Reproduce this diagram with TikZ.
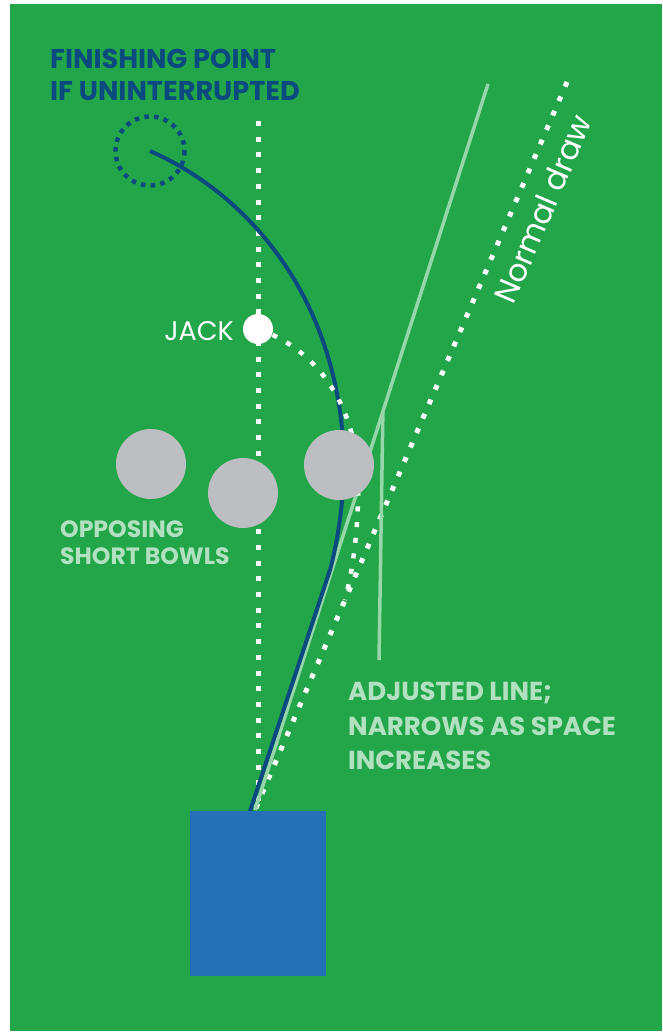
\documentclass[tikz,border=0pt]{standalone}
\usepackage{fontspec}
\setmainfont{Poppins}
\usetikzlibrary{calc}
\definecolor{pitch}{RGB}{35,166,74}
\definecolor{navy}{RGB}{11,74,126}
\definecolor{lgreen}{RGB}{150,214,168}
\definecolor{lgtext}{RGB}{178,225,192}
\definecolor{matblue}{RGB}{38,112,184}
\definecolor{bowlgrey}{RGB}{189,190,194}
\tikzset{
  whitedots/.style={white, line width=5pt, dash pattern=on 5pt off 10.7pt},
  navydots/.style={navy, line width=4.5pt, dash pattern=on 4.5pt off 5.3pt},
  adjline/.style={lgreen, line width=3.5pt},
  bowl/.style={circle, fill=bowlgrey, minimum size=70pt, inner sep=0pt},
  label/.style={anchor=north west, inner sep=0pt, align=left},
}
\begin{document}
\begin{tikzpicture}[x=1pt,y=-1pt]
      \useasboundingbox (0,0) rectangle (662,1033);
      \fill[pitch] (10,4) rectangle (662,1031);

      \coordinate (mat) at (255,810);
      \coordinate (release) at (250,811);
      \coordinate (finish) at (150,151);
      \coordinate (normaltop) at (567,82);
      \coordinate (adjtop) at (488,84);
      \coordinate (tick) at ($(mat)!0.549!(adjtop)$);

      \draw[whitedots] (258,121) -- (258,808);
      \draw[whitedots] (normaltop) -- (mat);
      \draw[adjline] (mat) -- (adjtop);
      \draw[adjline] (tick) -- (379,660);

      \draw[navydots] (finish) circle[radius=34.5];
      \draw[navy, line width=4pt] (finish) .. controls (250,195) and (340,300) .. (344,460)
        .. controls (344,500) and (338,540) .. (330,570) -- (release);

      \node[circle, fill=white, minimum size=30pt, inner sep=0pt] (jack) at (258,329) {};
      \draw[whitedots, line width=4.5pt] (jack.center) .. controls (320,350) and (357,410) .. (358,480)
        .. controls (359,540) and (350,580) .. (345,600);

      \node[bowl] (bowla) at (151,464) {};
      \node[bowl] (bowlb) at (243,493) {};
      \node[bowl] (bowlc) at (339,465) {};

      \fill[matblue] (190,811) rectangle (326,976);

      \node[label, navy, font=\bfseries\fontsize{27.2}{32}\selectfont] (finishlabel) at (50,48.5) {FINISHING POINT\\IF UNINTERRUPTED};
      \node[anchor=east, inner sep=0pt, white, font=\fontsize{27}{27}\selectfont] (jacklabel) at (234,331) {JACK};
      \node[label, lgtext, font=\bfseries\fontsize{23.6}{27}\selectfont] (shortlabel) at (60,520.5) {OPPOSING\\SHORT BOWLS};
      \node[label, lgtext, font=\bfseries\fontsize{26}{34.5}\selectfont] (adjlabel) at (348,682) {ADJUSTED LINE;\\NARROWS AS SPACE\\INCREASES};
      \node[white, inner sep=0pt, rotate=66.8, font=\fontsize{31}{31}\selectfont] (normallabel) at (543,209) {Normal draw};
    \end{tikzpicture}
\end{document}
